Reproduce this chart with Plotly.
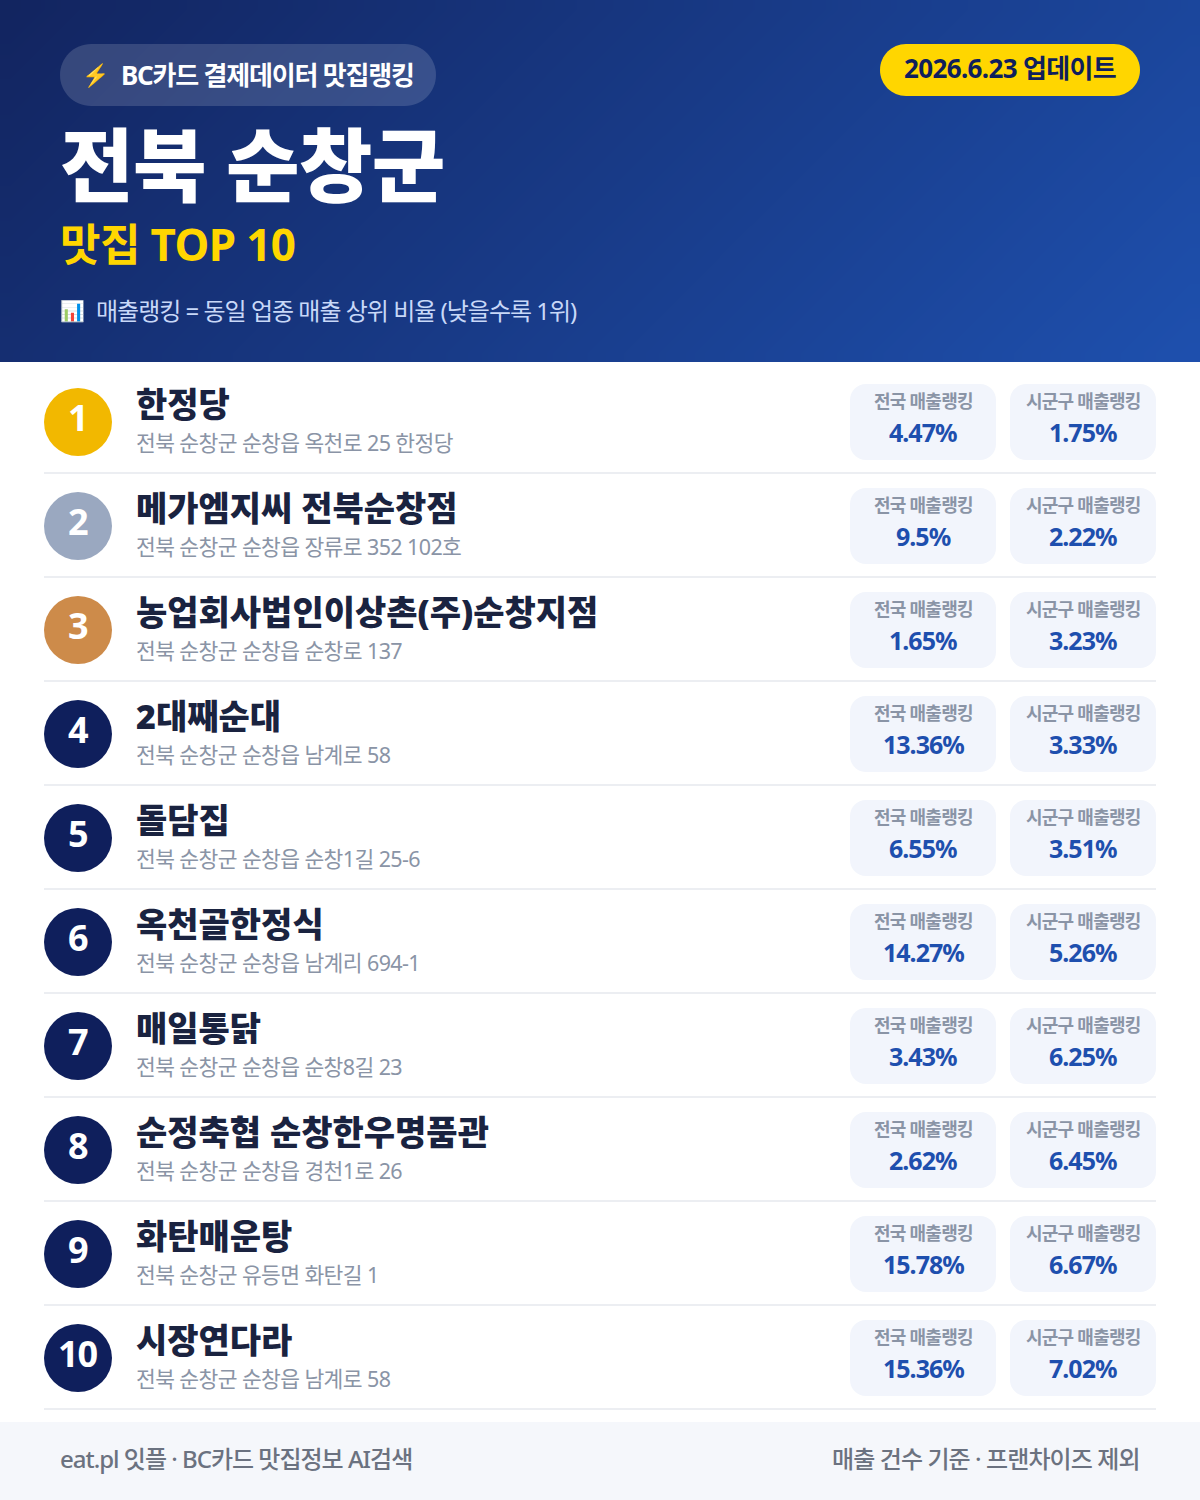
import numpy as np
import plotly.graph_objects as go

names = ["한정당", "메가엠지씨 전북순창점", "농업회사법인이상촌(주)순창지점", "2대째순대", "돌담집",
         "옥천골한정식", "매일통닭", "순정축협 순창한우명품관", "화탄매운탕", "시장연다라"]
addresses = ["전북 순창군 순창읍 옥천로 25 한정당", "전북 순창군 순창읍 장류로 352 102호",
             "전북 순창군 순창읍 순창로 137", "전북 순창군 순창읍 남계로 58",
             "전북 순창군 순창읍 순창1길 25-6", "전북 순창군 순창읍 남계리 694-1",
             "전북 순창군 순창읍 순창8길 23", "전북 순창군 순창읍 경천1로 26",
             "전북 순창군 유등면 화탄길 1", "전북 순창군 순창읍 남계로 58"]
national = ["4.47%", "9.5%", "1.65%", "13.36%", "6.55%", "14.27%", "3.43%", "2.62%", "15.78%", "15.36%"]
district = ["1.75%", "2.22%", "3.23%", "3.33%", "3.51%", "5.26%", "6.25%", "6.45%", "6.67%", "7.02%"]
rank_colors = ["#f2b800", "#9aa8c0", "#cd8b4a"] + ["#0f1f5c"] * 7

KR = "Noto Sans, Noto Sans CJK KR"
W, H = 1200, 1500


def rrect(x0, y0, x1, y1, r):
    k = r * 0.448
    return (f"M{x0+r},{y0} L{x1-r},{y0} C{x1-k},{y0} {x1},{y0+k} {x1},{y0+r} L{x1},{y1-r} "
            f"C{x1},{y1-k} {x1-k},{y1} {x1-r},{y1} L{x0+r},{y1} C{x0+k},{y1} {x0},{y1-k} {x0},{y1-r} "
            f"L{x0},{y0+r} C{x0},{y0+k} {x0+k},{y0} {x0+r},{y0} Z")


def label(x, y, text, size, color, weight=400, anchor="left", spacing=0):
    if spacing:
        text = f'<span style="letter-spacing:{spacing}px">{text}</span>'
    return dict(x=x, y=y, text=text, showarrow=False, xanchor=anchor, yanchor="middle", borderpad=0,
                align=anchor, font=dict(family=KR, size=size, color=color, weight=weight))


# header gradient
gx = np.linspace(0, W, 61)
gy = np.linspace(0, 362, 21)
gz = ((gx[:-1] + gx[1:])[None, :] + (gy[:-1] + gy[1:])[:, None]) / 2 / (W + 362)
fig = go.Figure(go.Heatmap(x=gx, y=gy, z=gz, zsmooth="best", showscale=False, hoverinfo="skip",
                           zmin=0, zmax=1, colorscale=[[0, "#12245f"], [1, "#1e50ae"]]))

shapes = [
    dict(type="path", path=rrect(60, 44, 436, 106, 31), fillcolor="rgba(255,255,255,0.15)", line_width=0),
    dict(type="path", path=rrect(880, 44, 1140, 96, 26), fillcolor="#ffd600", line_width=0),
    dict(type="rect", x0=0, x1=W, y0=1422, y1=H, fillcolor="#f5f7fb", line_width=0),
]
notes = [
    label(81, 74, "⚡", 22, "#ffd600"),
    label(119.5, 75, "BC카드 결제데이터 맛집랭킹", 26, "#ffffff", 700, spacing=-1.2),
    label(1010, 67.5, "2026.6.23 업데이트", 26, "#0f1f5c", 700, "center", spacing=-0.65),
    label(59, 163, "전북 순창군", 80, "#ffffff", 900, spacing=-0.7),
    label(59, 243.5, "맛집 TOP 10", 44, "#ffd600", 700, spacing=-0.6),
    label(59, 310, "📊", 20, "#ffffff"),
    label(95, 310, "매출랭킹 = 동일 업종 매출 상위 비율 (낮을수록 1위)", 24, "#c8d8f8", spacing=-1),
    label(58.5, 1458, "eat.pl 잇플 · BC카드 맛집정보 AI검색", 24, "#6b7280", 500, spacing=-1),
    label(1141, 1458, "매출 건수 기준 · 프랜차이즈 제외", 24, "#6b7280", 500, "right", spacing=-0.9),
]

for i in range(len(names)):
    dy = 104 * i
    shapes.append(dict(type="circle", x0=44, x1=112, y0=388 + dy, y1=456 + dy, fillcolor=rank_colors[i], line_width=0))
    shapes.append(dict(type="rect", x0=44, x1=1156, y0=472 + dy, y1=474 + dy, fillcolor="#eceef2", line_width=0))
    notes.append(label(78, 417 + dy, str(i + 1), 36, "#ffffff", 700, "center", spacing=-1))
    notes.append(label(135, 403.5 + dy, names[i], 34, "#1a2340", 900))
    notes.append(label(135, 442.5 + dy, addresses[i], 21.5, "#8a94a6", spacing=-0.6))
    for x0, head, value in ((850, "전국 매출랭킹", national[i]), (1010, "시군구 매출랭킹", district[i])):
        shapes.append(dict(type="path", path=rrect(x0, 384 + dy, x0 + 146, 460 + dy, 16),
                           fillcolor="#f2f5fc", line_width=0))
        notes.append(label(x0 + 73, 401 + dy, head, 18, "#8a94a6", 700, "center", spacing=-0.75))
        notes.append(label(x0 + 73, 431.5 + dy, value, 25, "#1e4fae", 700, "center", spacing=-1))

fig.update_layout(
    width=W, height=H, margin=dict(l=0, r=0, t=0, b=0),
    paper_bgcolor="#ffffff", plot_bgcolor="#ffffff",
    xaxis=dict(range=[0, W], visible=False, fixedrange=True),
    yaxis=dict(range=[H, 0], visible=False, fixedrange=True),
    shapes=shapes, annotations=notes, showlegend=False,
)
fig.write_html("out.html", config={"displayModeBar": False},
               post_script="document.body.style.margin='0';")
